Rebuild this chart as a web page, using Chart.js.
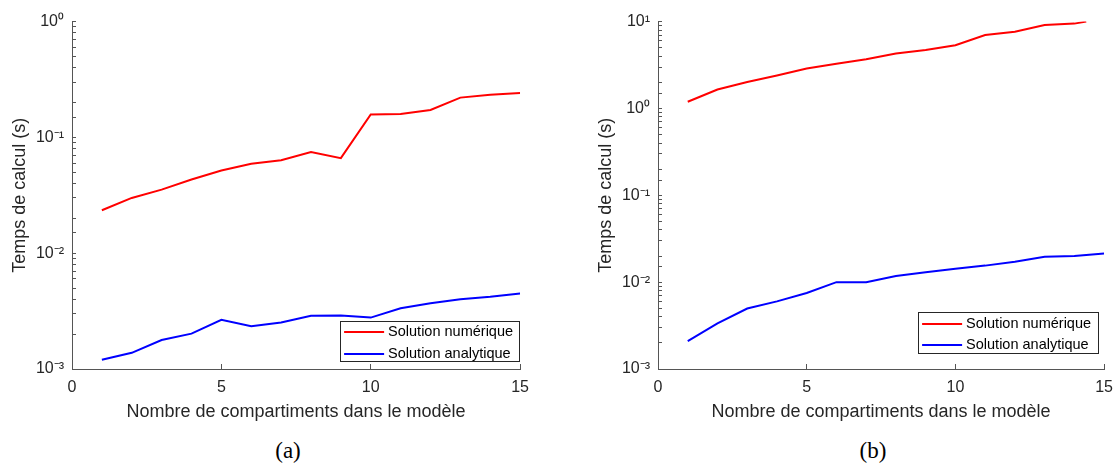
<!DOCTYPE html>
<html>
<head>
<meta charset="utf-8">
<script src="https://cdn.jsdelivr.net/npm/chart.js@4.4.1/dist/chart.umd.min.js"></script>
<style>
  html, body { margin: 0; padding: 0; background: #fff; width: 1117px; height: 466px; overflow: hidden; position: relative; }
  .panel { position: absolute; top: 0; }
  .caption { position: absolute; top: 438px; width: 60px; text-align: center;
    font-family: 'Liberation Serif', 'DejaVu Serif', serif; font-size: 23px; color: #000; }
</style>
</head>
<body>
<canvas id="chartA" class="panel" width="543" height="430" style="left:0px"></canvas>
<canvas id="chartB" class="panel" width="541" height="430" style="left:586px"></canvas>
<div class="caption" style="left:258px">(a)</div>
<div class="caption" style="left:843px">(b)</div>
<script>
// (a) nombre de compartiments 1..15
const compartmentsA = [1, 2, 3, 4, 5, 6, 7, 8, 9, 10, 11, 12, 13, 14, 15];
const numeriqueA = [0.0235, 0.030, 0.0354, 0.0433, 0.0518, 0.0591, 0.0636, 0.0746, 0.0662, 0.158, 0.159, 0.1725, 0.2206, 0.234, 0.242];
const analytiqueA = [0.0012, 0.00138, 0.00178, 0.00202, 0.00266, 0.00234, 0.00252, 0.00288, 0.0029, 0.00278, 0.00335, 0.0037, 0.00401, 0.00421, 0.00449];

// (b) the numerical curve stops a little before 15
const compartmentsNumB = [1, 2, 3, 4, 5, 6, 7, 8, 9, 10, 11, 12, 13, 14, 14.4];
const numeriqueB = [1.195, 1.65, 2.02, 2.40, 2.89, 3.28, 3.68, 4.28, 4.72, 5.35, 7.0, 7.65, 9.14, 9.48, 10.0];
const compartmentsAnaB = [1, 2, 3, 4, 5, 6, 7, 8, 9, 10, 11, 12, 13, 14, 15];
const analytiqueB = [0.0021, 0.00335, 0.00497, 0.00601, 0.00749, 0.0100, 0.0100, 0.0118, 0.0130, 0.0143, 0.0155, 0.0172, 0.0196, 0.0200, 0.0214];

const seriesLabels = ['Solution numérique', 'Solution analytique'];
const xTitle = 'Nombre de compartiments dans le modèle';
const yTitle = 'Temps de calcul (s)';

const FONT = "'Liberation Sans', Arial, sans-serif";
const AXIS = '#555555';
const TEXT = '#262626';

const supers = { '-': '⁻', '0': '⁰', '1': '¹', '2': '²', '3': '³' };
const powerLabel = (value) => {
  const lg = Math.log10(value);
  const exp = Math.round(lg);
  if (Math.abs(lg - exp) > 1e-9) return '';
  return '10' + String(exp).split('').map((c) => supers[c]).join('');
};

// legend drawn in a box inside the plot, bottom right (like MATLAB)
const boxedLegend = {
  id: 'boxedLegend',
  afterDatasetsDraw(chart, args, opts) {
    const { ctx, chartArea } = chart;
    const right = chartArea.right - opts.right;
    const bottom = chartArea.bottom - opts.bottom;
    const left = right - opts.width;
    const top = bottom - opts.height;
    ctx.save();
    ctx.fillStyle = '#fff';
    ctx.fillRect(left, top, opts.width, opts.height);
    ctx.strokeStyle = TEXT;
    ctx.lineWidth = 1;
    ctx.strokeRect(Math.round(left) + 0.5, Math.round(top) + 0.5, opts.width - 1, opts.height - 1);
    ctx.font = '14.5px ' + FONT;
    ctx.textBaseline = 'middle';
    chart.data.datasets.forEach((ds, i) => {
      const y = top + opts.rows[i];
      ctx.strokeStyle = ds.borderColor;
      ctx.lineWidth = 2;
      ctx.beginPath();
      ctx.moveTo(left + 4, y);
      ctx.lineTo(left + 44, y);
      ctx.stroke();
      ctx.fillStyle = '#000';
      ctx.fillText(ds.label, left + 48, y);
    });
    ctx.restore();
  },
};

const toPoints = (xs, ys) => xs.map((x, i) => ({ x: x, y: ys[i] }));

const makeChart = (canvasId, numPts, anaPts, yMax, legendOpts) => {
  const ctx = document.getElementById(canvasId).getContext('2d');
  return new Chart(ctx, {
    type: 'line',
    data: {
      datasets: [
        {
          label: seriesLabels[0],
          data: numPts,
          borderColor: '#ff0000',
          borderWidth: 2,
          pointRadius: 0,
          tension: 0,
        },
        {
          label: seriesLabels[1],
          data: anaPts,
          borderColor: '#0000ff',
          borderWidth: 2,
          pointRadius: 0,
          tension: 0,
        },
      ],
    },
    plugins: [boxedLegend],
    options: {
      responsive: false,
      animation: false,
      devicePixelRatio: 1,
      layout: { padding: { top: 19, right: 0, bottom: 0, left: 0 } },
      plugins: {
        legend: { display: false },
        tooltip: { enabled: false },
        boxedLegend: legendOpts,
      },
      scales: {
        x: {
          type: 'linear',
          min: 0,
          max: 15,
          afterFit: (scale) => { scale.height = 61; },
          ticks: {
            stepSize: 5,
            color: TEXT,
            padding: 14,
            maxRotation: 0,
            font: { family: FONT, size: 16 },
          },
          grid: {
            drawOnChartArea: false,
            drawTicks: true,
            tickLength: -5,
            color: AXIS,
          },
          border: { color: AXIS, width: 1 },
          title: {
            display: true,
            text: xTitle,
            color: TEXT,
            font: { family: FONT, size: 18 },
            padding: { top: 0, bottom: 7 },
          },
        },
        y: {
          type: 'logarithmic',
          min: 0.001,
          max: yMax,
          afterFit: (scale) => { scale.width = 72; },
          ticks: {
            callback: (value) => powerLabel(value),
            autoSkip: false,
            color: TEXT,
            padding: 12,
            font: { family: FONT, size: 16 },
          },
          grid: {
            drawOnChartArea: false,
            drawTicks: true,
            tickLength: -4,
            color: AXIS,
          },
          border: { color: AXIS, width: 1 },
          title: {
            display: true,
            text: yTitle,
            color: TEXT,
            font: { family: FONT, size: 18 },
            padding: { top: 9, bottom: 0 },
          },
        },
      },
    },
  });
};

makeChart('chartA', toPoints(compartmentsA, numeriqueA), toPoints(compartmentsA, analytiqueA), 1,
  { right: 0, bottom: 7, width: 180, height: 41, rows: [11, 33] });
makeChart('chartB', toPoints(compartmentsNumB, numeriqueB), toPoints(compartmentsAnaB, analytiqueB), 10,
  { right: 5, bottom: 15, width: 181, height: 42, rows: [12, 33] });
</script>
</body>
</html>
